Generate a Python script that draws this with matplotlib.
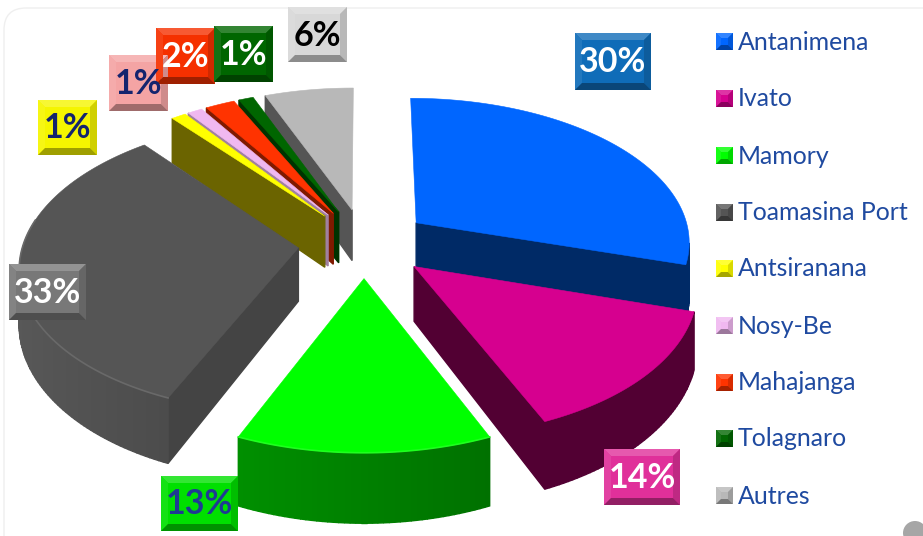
import numpy as np
import matplotlib
matplotlib.use('Agg')
import matplotlib.pyplot as plt
from matplotlib.colors import to_rgb
from matplotlib.patches import Rectangle, Polygon, FancyBboxPatch, Circle

# Data
names = ['Antanimena', 'Ivato', 'Mamory', 'Toamasina Port', 'Antsiranana',
         'Nosy-Be', 'Mahajanga', 'Tolagnaro', 'Autres']
values = [30, 14, 13, 33, 1, 1, 2, 1, 6]

# Colours
top_colors = ['#0066ff', '#d6008f', '#00ff00', '#555555', '#ffff00',
              '#f0b8f0', '#ff3300', '#006600', '#b8b8b8']
side_colors = ['#002a66', '#520033', '#008000', '#444444', '#6b6400',
               '#a080a0', '#801a00', '#003300', '#555555']
tile_colors = ['#0f6cb8', '#e0309a', '#00e000', '#787878', '#f5f500',
               '#f4a4a4', '#f53000', '#006600', '#d8d8d8']
text_colors = ['white', 'white', '#1f3a93', 'white', '#14246e',
               '#14246e', 'white', 'white', 'black']
legend_blue = '#1f4aa0'

# Label tiles in pixels: left, top, right, bottom
tiles = [(575, 33, 651, 90), (604, 449, 680, 505), (161, 476, 238, 531),
         (9, 264, 86, 320), (38, 100, 97, 155), (109, 55, 168, 111),
         (156, 28, 215, 84), (214, 26, 273, 82), (288, 7, 347, 62)]
legend_y = [41, 98, 155, 212, 268, 325, 382, 438, 495]

# Projection of the pie plane
cx, cy = 364, 243
rx, ry = 275, 144
persp = 0.12
depth_persp = 0.2
explode = 0.24
depth = 53

plt.rcParams['font.family'] = ['Lato', 'DejaVu Sans']


def project(u, v):
    w = 1 + persp * v
    return cx + rx * u / w, cy - ry * v / w, depth / (1 + depth_persp * v)


def shade(color, f):
    return tuple(min(1, c * f) for c in to_rgb(color))


def mix_white(color, f):
    return tuple(c + (1 - c) * f for c in to_rgb(color))


def draw_slice(ax, a0, a1, top, side, rounded):
    mid = (a0 + a1) / 2
    ou, ov = explode * np.sin(mid), explode * np.cos(mid)
    th = np.linspace(a0, a1, max(4, int((a1 - a0) * 60)))
    us = np.r_[ou, ou + np.sin(th), ou]
    vs = np.r_[ov, ov + np.cos(th), ov]
    px, py, pd = project(us, vs)

    # side walls, only the ones facing the viewer
    for i in range(len(px) - 1):
        dx, dy = px[i + 1] - px[i], py[i + 1] - py[i]
        is_cut = i == 0 or i == len(px) - 2
        if dx >= 0 or (is_cut and abs(dx) < 0.15 * abs(dy)):
            continue
        col = side
        if rounded and not is_cut:
            col = shade(side, 1 - 0.3 * np.sin((th[i - 1] + th[i]) / 2))
        quad = [(px[i], py[i]), (px[i + 1], py[i + 1]),
                (px[i + 1], py[i + 1] + pd[i + 1]), (px[i], py[i] + pd[i])]
        ax.add_patch(Polygon(quad, closed=True, fc=col, ec=col, lw=1))

    ax.add_patch(Polygon(np.c_[px, py], closed=True, fc=top, ec=top, lw=0.4))
    if rounded:
        front = np.where(np.cos(th) < 0.2)[0]
        ax.plot(px[1:-1][front], py[1:-1][front], color=mix_white(top, 0.12), lw=1.2)


def bevel_tile(ax, box, color, label, tcolor, b=7):
    x0, y0, x1, y1 = box
    ax.add_patch(Rectangle((x0, y0), x1 - x0, y1 - y0, fc=color, ec='none', zorder=10))
    faces = [([(x0, y0), (x1, y0), (x1 - b, y0 + b), (x0 + b, y0 + b)], mix_white(color, 0.2)),
             ([(x0, y0), (x0 + b, y0 + b), (x0 + b, y1 - b), (x0, y1)], mix_white(color, 0.08)),
             ([(x1, y0), (x1 - b, y0 + b), (x1 - b, y1 - b), (x1, y1)], shade(color, 0.85)),
             ([(x0, y1), (x0 + b, y1 - b), (x1 - b, y1 - b), (x1, y1)], shade(color, 0.65))]
    for pts, col in faces:
        ax.add_patch(Polygon(pts, closed=True, fc=col, ec='none', zorder=11))
    if label:
        ax.text((x0 + x1) / 2, (y0 + y1) / 2 + 1, label, color=tcolor, fontsize=24.5,
                fontweight='bold', ha='center', va='center', zorder=12)


fig = plt.figure(figsize=(9.23, 5.36), dpi=100)
ax = fig.add_axes([0, 0, 1, 1])
ax.set_xlim(0, 923)
ax.set_ylim(536, 0)
ax.axis('off')

# faint rounded frame and the grey dot in the corner
ax.add_patch(FancyBboxPatch((4, 8), 1000, 700, boxstyle='round,pad=0,rounding_size=22',
                            fc='white', ec='#efefef', lw=1))
ax.add_patch(Circle((915, 533), 12, fc='#a6a6a6', ec='none'))

fractions = np.array(values) / np.sum(values)
edges = np.r_[0, np.cumsum(fractions)] * 2 * np.pi

# back slices first, front ones last
order = [8, 7, 6, 5, 4, 0, 3, 1, 2]
for i in order:
    draw_slice(ax, edges[i], edges[i + 1], top_colors[i], side_colors[i], i in (2, 3))

for i in range(len(values)):
    bevel_tile(ax, tiles[i], tile_colors[i], f'{values[i]}%', text_colors[i])
    y = legend_y[i]
    bevel_tile(ax, (716, y - 8, 733, y + 9), top_colors[i], '', None, b=5)
    ax.text(738, y + 1, names[i], color=legend_blue, fontsize=17.9, va='center', ha='left')

fig.savefig('out.png', dpi=100)
